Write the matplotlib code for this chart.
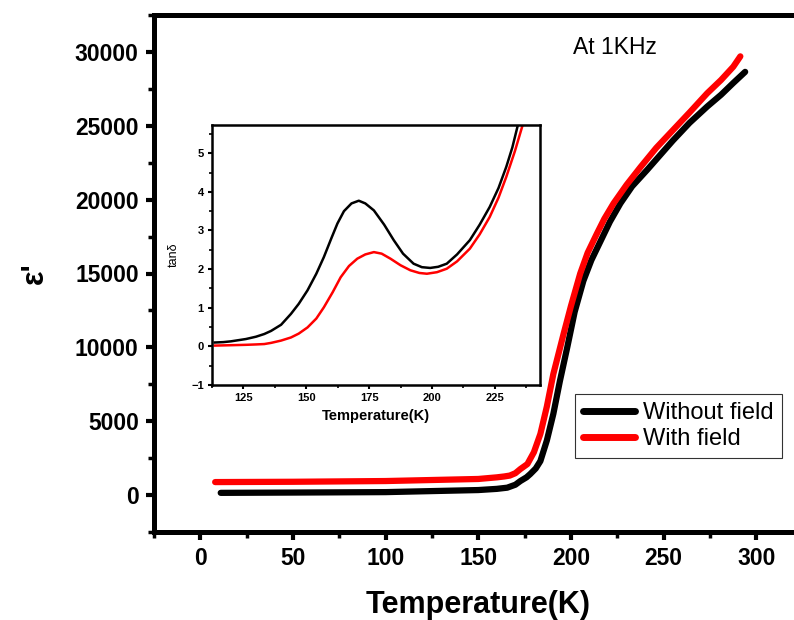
import numpy as np
import matplotlib.pyplot as plt

plt.rcParams['font.family'] = ['Liberation Sans', 'DejaVu Sans']

# main curves: permittivity vs temperature
t_without = [11, 50, 100, 150, 160, 165.6, 170, 172.7, 176, 178, 181, 183.5, 187, 190.5, 194, 198,
             202, 206.7, 211, 216, 221, 226.7, 233, 241, 248, 255, 264, 273.5, 281, 287.6, 294]
eps_without = [150, 170, 200, 340, 420, 500, 700, 950, 1200, 1420, 1800, 2300, 3700, 5500, 7700, 10000,
               12400, 14500, 15900, 17200, 18500, 19750, 20900, 22000, 23000, 24000, 25200, 26300, 27100, 27900, 28650]
t_with = [8, 50, 100, 150, 160, 164, 167, 170, 172.7, 176.5, 180, 183.5, 187, 190.5, 196,
          200, 205, 209, 214, 218, 223, 230, 237.5, 246, 255, 264, 273.5, 281, 287.6, 291.4]
eps_with = [880, 900, 950, 1090, 1200, 1260, 1320, 1480, 1760, 2100, 2900, 4140, 6000, 8200, 10900,
            12800, 15000, 16400, 17700, 18700, 19750, 21000, 22200, 23500, 24700, 25900, 27200, 28100, 29000, 29700]

# inset: tan delta
ti_without = [113.6, 117, 120, 123, 126, 130, 133.3, 136, 140, 143.9, 147, 150.5, 154, 157, 160, 162.4,
              165, 168, 170.9, 173.5, 176.9, 181, 184.8, 188.5, 192.7, 196, 199.3, 202.5, 205.9, 210,
              215.1, 219, 223, 226.5, 229.6, 232, 234.2]
tan_without = [0.1, 0.11, 0.13, 0.16, 0.19, 0.25, 0.32, 0.4, 0.56, 0.84, 1.1, 1.45, 1.88, 2.31, 2.8, 3.18,
               3.5, 3.7, 3.77, 3.7, 3.52, 3.15, 2.75, 2.4, 2.14, 2.05, 2.03, 2.06, 2.14, 2.38,
               2.75, 3.15, 3.61, 4.1, 4.65, 5.15, 5.73]
ti_with = [113.6, 120, 126, 130, 133.3, 136, 140, 143.9, 147, 150.5, 154, 157, 160.5, 163.7, 167, 170.3,
           173.5, 176.9, 180, 183.5, 187.5, 191.4, 195, 198, 202, 205.9, 210, 215.1, 219, 223, 226.5,
           229.6, 233, 236.1]
tan_with = [0.02, 0.03, 0.04, 0.05, 0.06, 0.09, 0.15, 0.23, 0.33, 0.49, 0.72, 1.01, 1.4, 1.79, 2.08, 2.27,
            2.38, 2.44, 2.4, 2.27, 2.1, 1.97, 1.9, 1.88, 1.92, 2.01, 2.2, 2.53, 2.9, 3.35, 3.85,
            4.39, 5.05, 5.73]

fig = plt.figure(figsize=(7.94, 6.2), dpi=100)
ax = fig.add_axes([154/794, 88/620, 648.6/794, 517/620])

ax.plot(t_without, eps_without, color='black', lw=4.5, solid_capstyle='round', label='Without field')
ax.plot(t_with, eps_with, color='red', lw=4.5, solid_capstyle='round', label='With field')

ax.set_xlim(-25, 325)
ax.set_ylim(-2500, 32500)
ax.set_xticks(np.arange(0, 301, 50))
ax.set_xticks(np.arange(-25, 326, 25), minor=True)
ax.set_yticks(np.arange(0, 30001, 5000))
ax.set_yticks(np.arange(-2500, 32501, 2500), minor=True)
for s in ax.spines.values():
    s.set_linewidth(3.6)
ax.tick_params(which='major', direction='out', length=6, width=3, labelsize=16.5, pad=5)
ax.tick_params(which='minor', direction='out', length=4, width=2.5)
for lab in ax.get_xticklabels() + ax.get_yticklabels():
    lab.set_fontweight('bold')
ax.set_xlabel('Temperature(K)', fontsize=22, fontweight='bold', labelpad=14)
ax.set_ylabel("ε'", fontsize=22, fontweight='bold', labelpad=18)

fig.text(573/794, 1 - 48/620, 'At 1KHz', fontsize=16.5, va='center', ha='left')

leg = fig.legend(loc='upper left', bbox_to_anchor=(575/794, 1 - 394/620), fontsize=17,
                 frameon=True, fancybox=False, edgecolor='black', handlelength=2.2,
                 borderpad=0.35, labelspacing=0.15, handletextpad=0.35, borderaxespad=0)
leg.get_frame().set_linewidth(0.8)
for h in leg.get_lines():
    h.set_linewidth(5)

# inset
axi = fig.add_axes([212/794, 1 - 385/620, 328/794, 260/620])
axi.plot(ti_without, tan_without, color='black', lw=1.8)
axi.plot(ti_with, tan_with, color='red', lw=1.8)
axi.set_xlim(113, 243)
axi.set_ylim(-1, 5.73)
axi.set_xticks([125, 150, 175, 200, 225])
axi.set_xticks(np.arange(112.5, 243, 12.5), minor=True)
axi.set_yticks(np.arange(-1, 6, 1))
axi.set_yticks(np.arange(-1, 5.8, 0.5), minor=True)
for s in axi.spines.values():
    s.set_linewidth(1.8)
axi.tick_params(which='major', direction='out', length=3, width=1.5, labelsize=8, pad=3)
axi.tick_params(which='minor', direction='out', length=2, width=1.2)
for lab in axi.get_xticklabels() + axi.get_yticklabels():
    lab.set_fontweight('bold')
axi.set_xlabel('Temperature(K)', fontsize=10.5, fontweight='bold', labelpad=4)
axi.set_ylabel('tanδ', fontsize=9, labelpad=8)

fig.savefig('out.png', dpi=100)
